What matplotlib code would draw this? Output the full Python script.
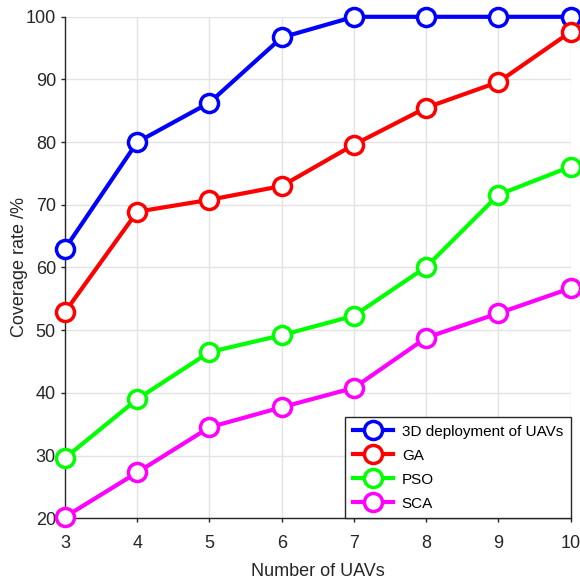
import numpy as np
import matplotlib.pyplot as plt

plt.rcParams['font.family'] = ['Liberation Sans', 'DejaVu Sans']

# === Data ===
num_uavs = [3, 4, 5, 6, 7, 8, 9, 10]
deploy3d = [63.0, 80.0, 86.3, 96.7, 100.0, 100.0, 100.0, 100.0]
ga       = [52.9, 68.9, 70.8, 73.0, 79.6, 85.5, 89.6, 97.6]
pso      = [29.6, 39.0, 46.5, 49.2, 52.3, 60.1, 71.6, 76.1]
sca      = [20.2, 27.3, 34.5, 37.7, 40.8, 48.8, 52.7, 56.7]

series = [
    (deploy3d, '#0000ff', '3D deployment of UAVs'),
    (ga,       '#ff0000', 'GA'),
    (pso,      '#00ff00', 'PSO'),
    (sca,      '#ff00ff', 'SCA'),
]

fig = plt.figure(figsize=(5.8, 5.79), dpi=100)
ax = fig.add_axes([0.112, 0.105, 0.872, 0.866])

for vals, col, lab in series:
    ax.plot(num_uavs, vals, '-o', color=col, lw=3, markersize=13,
            markerfacecolor='white', markeredgecolor=col, markeredgewidth=2.5,
            label=lab, clip_on=False, zorder=3)

ax.set_xlim(3, 10)
ax.set_ylim(20, 100)
ax.set_xticks(num_uavs)
ax.set_yticks(np.arange(20, 101, 10))
ax.grid(True, color='#e3e3e3', lw=1)
ax.set_axisbelow(True)
for s in ['top', 'right']:
    ax.spines[s].set_visible(False)
for s in ['left', 'bottom']:
    ax.spines[s].set_color('#262626')
    ax.spines[s].set_linewidth(1)
ax.tick_params(direction='out', length=3, width=1, colors='#262626',
               labelsize=13, labelcolor='#262626')
ax.tick_params(axis='x', pad=9)
ax.set_xlabel('Number of UAVs', fontsize=13, color='#262626', labelpad=8)
ax.set_ylabel('Coverage rate /%', fontsize=13, color='#262626')
ax.yaxis.set_label_coords(-0.073, 0.5)

leg = ax.legend(loc='lower right', fontsize=11, fancybox=False, framealpha=1,
                edgecolor='#262626', borderaxespad=0, handlelength=2.6,
                borderpad=0.5, labelspacing=0.65, handletextpad=0.6)
leg.get_frame().set_linewidth(1)

fig.savefig('out.png', dpi=100)
